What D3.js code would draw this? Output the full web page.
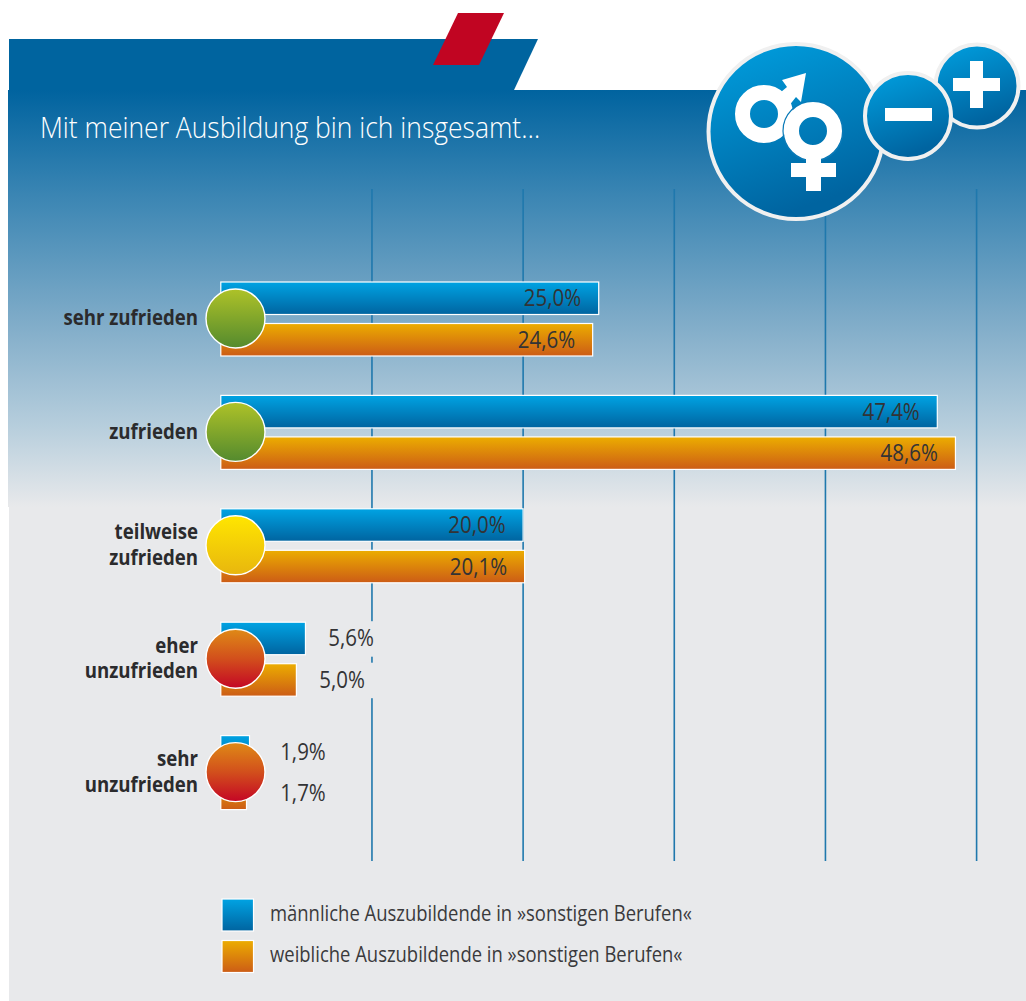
<!DOCTYPE html>
<html><head><meta charset="utf-8">
<script src="https://cdn.jsdelivr.net/npm/d3@7/dist/d3.min.js"></script>
<style>html,body{margin:0;padding:0;background:#fff}svg{display:block}text{font-family:"Open Sans","Noto Sans",sans-serif}</style>
</head><body><svg id="c" width="1026" height="1001"></svg>
<script>
const categories=[["sehr zufrieden"],["zufrieden"],["teilweise","zufrieden"],["eher","unzufrieden"],["sehr","unzufrieden"]];
const maleValues=[25.0,47.4,20.0,5.6,1.9];
const femaleValues=[24.6,48.6,20.1,5.0,1.7];
const moodColors=["green","green","yellow","red","red"];
const gridTicks=[10,20,30,40,50];
const seriesNames=["männliche Auszubildende in »sonstigen Berufen«","weibliche Auszubildende in »sonstigen Berufen«"];
const title="Mit meiner Ausbildung bin ich insgesamt…";
const W=1026,H=1001;
const svg=d3.select("#c");
const defs=svg.append("defs");
function grad(id,stops,x2=0,y2=1){const g=defs.append("linearGradient").attr("id",id).attr("x1",0).attr("y1",0).attr("x2",x2).attr("y2",y2);
 stops.forEach(([o,c])=>g.append("stop").attr("offset",o).attr("stop-color",c));}
grad("bg",[[0,"#00639f"],[.25,"#3a85b3"],[.55,"#7eabc8"],[.8,"#b5cddc"],[1,"#e8e9eb"]]);
grad("blue",[[0,"#00a3e3"],[1,"#0064a0"]]);
grad("orange",[[0,"#ecad00"],[1,"#cc5c16"]]);
grad("green",[[0,"#aec228"],[1,"#548a2e"]]);
grad("yellow",[[0,"#ffe600"],[1,"#e8b60e"]]);
grad("red",[[0,"#df8a16"],[.5,"#d24f1c"],[1,"#c40625"]]);
grad("badge",[[0,"#00a0e0"],[1,"#0064a0"]],.35,1);

const x=d3.scaleLinear().domain([0,50]).range([220.8,976.6]);
const y=d3.scaleBand().domain(d3.range(categories.length)).range([262,829]);

// backgrounds
svg.append("rect").attr("x",9).attr("y",505).attr("width",W-9).attr("height",H-505).attr("fill","#e8e9eb");
svg.append("rect").attr("x",8).attr("y",90).attr("width",W-8).attr("height",417).attr("fill","url(#bg)");
svg.append("path").attr("d","M9 39H538L514 90H9Z").attr("fill","#00649f");
svg.append("path").attr("d","M458 13H504L479 65H433Z").attr("fill","#c10522");

svg.append("text").text(title).attr("x",40).attr("y",138).attr("fill","#fff").attr("font-size",30).attr("font-weight",300).attr("id","t");

// grid
svg.append("g").selectAll("line").data(gridTicks).join("line")
 .attr("x1",d=>x(d)).attr("x2",d=>x(d)).attr("y1",189).attr("y2",861)
 .attr("stroke","#1f78ad").attr("stroke-width",1.6);

// knockouts + bars
const barH=32.5, gap=9;
const rows=svg.append("g").selectAll("g").data(categories).join("g")
 .attr("transform",(d,i)=>`translate(0,${y(i)})`);
const yTop=20;
function labelX(v){return v<3?x(0)+105:(v<10?x(v)+68.5:x(v)-17.5);}
[[maleValues,"blue",yTop],[femaleValues,"orange",yTop+barH+gap]].forEach(([vals,col,dy])=>{
 rows.each(function(_,i){
  const g=d3.select(this),v=vals[i];
  if(v>=3&&v<10) g.append("rect").attr("x",320).attr("y",dy-1).attr("width",60).attr("height",barH+3).attr("fill","#e8e9eb");
  g.append("rect").attr("x",x(0)).attr("y",dy).attr("width",x(v)-x(0)).attr("height",barH)
   .attr("fill",`url(#${col})`).attr("stroke","#fff").attr("stroke-width",1.2);
  g.append("text").text(d3.format(".1f")(v).replace(".",",")+"%")
   .attr("x",labelX(v)).attr("y",dy+barH/2+8).attr("text-anchor","end")
   .attr("font-size",23).attr("fill","#333335").attr("font-weight",400).attr("class","v");
 });
});
rows.append("circle").attr("cx",235.5).attr("cy",56.5).attr("r",29.5)
 .attr("fill",(d,i)=>`url(#${moodColors[i]})`).attr("stroke","#fff").attr("stroke-width",1.4);
rows.each(function(d){
 const t=d3.select(this).append("text").attr("text-anchor","end").attr("font-size",20.5).attr("font-weight",700).attr("fill","#2b2b2d").attr("class","l");
 const y0=d.length==1?63.5:50.5;
 d.forEach((s,j)=>t.append("tspan").attr("x",198).attr("y",y0+j*25.5).text(s));
});

// legend
[["blue",0],["orange",1]].forEach(([c,i])=>{
 const yy=899+i*41.5;
 svg.append("rect").attr("x",222).attr("y",yy).attr("width",31.5).attr("height",32).attr("fill",`url(#${c})`).attr("stroke","#fff").attr("stroke-width",1.2);
 svg.append("text").text(seriesNames[i]).attr("x",270).attr("y",yy+22).attr("font-size",22.5).attr("fill","#3a3a3c").attr("font-weight",400).attr("class","lg");
});

// badges
const badge=(cx,cy,r)=>svg.append("circle").attr("cx",cx).attr("cy",cy).attr("r",r).attr("fill","url(#badge)").attr("stroke","#f0f0f0").attr("stroke-width",4);
badge(977,86,41.5);
svg.append("path").attr("d","M970 61H983V78H1000V91H983V108H970V91H953V78H970Z").attr("fill","#fff");
badge(796,131.5,87.5);
badge(908,116,43);
svg.append("rect").attr("x",885).attr("y",108).attr("width",47).attr("height",13).attr("fill","#fff");
const sym=svg.append("g");
sym.append("path").attr("fill","#fff").attr("d","M806 73L782 80L787 87L775 97L788 107L796 97L801 102Z");
sym.append("circle").attr("cx",764).attr("cy",114).attr("r",21.5).attr("fill","none").attr("stroke","#fff").attr("stroke-width",15);
sym.append("circle").attr("cx",813).attr("cy",131).attr("r",30).attr("fill","none").attr("stroke","#0a7ab8").attr("stroke-width",1.2);
sym.append("circle").attr("cx",813).attr("cy",131).attr("r",21.5).attr("fill","none").attr("stroke","#fff").attr("stroke-width",15);
sym.append("path").attr("fill","#fff").attr("d","M806 155H821V163H836V177H821V191H806V177H791V163H806Z");

// condensed look
const squeeze=(sel,k)=>sel.each(function(){const n=d3.select(this),ax=+(n.attr("x")||n.select("tspan").attr("x"));n.attr("transform",`translate(${ax*(1-k)},0) scale(${k},1)`);});
squeeze(svg.select("#t"),.883);
squeeze(svg.selectAll(".lg"),.82);
squeeze(rows.selectAll(".v"),.89);
squeeze(rows.selectAll(".l"),.91);
</script></body></html>
